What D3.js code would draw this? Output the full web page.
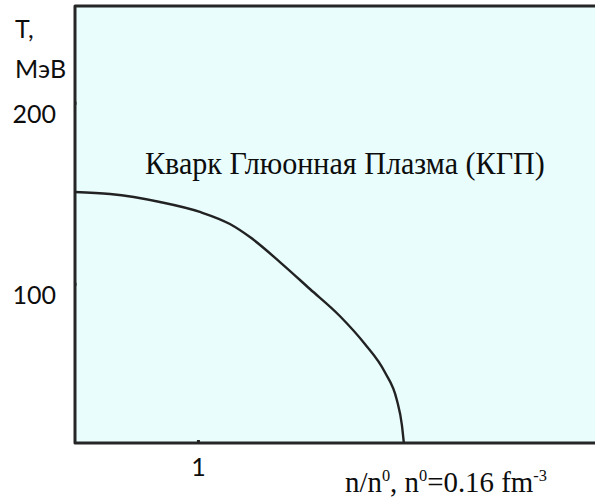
<!DOCTYPE html>
<html>
<head>
<meta charset="utf-8">
<script src="https://cdn.jsdelivr.net/npm/d3@7"></script>
<style>
  html, body { margin: 0; padding: 0; background: #ffffff; }
  svg { display: block; }
</style>
</head>
<body>
<svg id="chart" width="595" height="500"></svg>
<script>
// Phase boundary between hadronic matter and quark-gluon plasma
const densityRatio = [0, 0.285, 0.691, 1.016, 1.26, 1.423, 1.667, 1.911, 2.154, 2.358, 2.52, 2.618, 2.659, 2.675];
const temperatureMeV = [150.7, 149.6, 145.2, 139.7, 133.0, 125.8, 112.0, 97.1, 82.2, 66.7, 51.2, 35.8, 22.0, 12];
const yTickValues = [100, 200];
const xTickValues = [1];
const yTitleLines = ["T,", "МэВ"];
const xTitle = [
  { text: "n/n" }, { text: "0", sup: true }, { text: ", n" }, { text: "0", sup: true },
  { text: "=0.16 fm" }, { text: "-3", sup: true }
];
const regionLabel = "Кварк Глюонная Плазма (КГП)";

const svg = d3.select("#chart");
const plot = { left: 75, right: 595, top: 6, bottom: 443 };

const x = d3.scaleLinear().domain([0, 4.23]).range([plot.left, plot.right]);
const y = d3.scaleLinear().domain([12, 253.5]).range([plot.bottom, plot.top]);

// plot area background
svg.append("rect")
  .attr("x", plot.left).attr("y", plot.top)
  .attr("width", plot.right - plot.left).attr("height", plot.bottom - plot.top)
  .attr("fill", "#e9fdfd");

// frame: top, left and bottom edges
svg.append("path")
  .attr("d", `M${plot.right},${plot.top}H${plot.left}V${plot.bottom}H${plot.right}`)
  .attr("fill", "none")
  .attr("stroke", "#262626")
  .attr("stroke-width", 3)
  .attr("stroke-linejoin", "round");

const sansFont = "Lato, 'Open Sans', sans-serif";
const serifFont = "'Liberation Serif', 'Times New Roman', serif";

// axes
const yAxis = d3.axisLeft(y).tickValues(yTickValues).tickFormat(d3.format("d"))
  .tickSize(3).tickPadding(16).tickSizeOuter(0);
const gy = svg.append("g").attr("transform", `translate(${plot.left},0)`).call(yAxis);
gy.select(".domain").remove();
gy.selectAll(".tick line").attr("stroke", "#222").attr("stroke-width", 3).attr("x2", 1.5);
gy.selectAll(".tick text")
  .attr("font-family", sansFont)
  .attr("font-size", 25)
  .attr("fill", "#0d0d0d")
  .attr("dy", 20);

const xAxis = d3.axisBottom(x).tickValues(xTickValues).tickFormat(d3.format("d"))
  .tickSize(3).tickPadding(12).tickSizeOuter(0);
const gx = svg.append("g").attr("transform", `translate(0,${plot.bottom})`).call(xAxis);
gx.select(".domain").remove();
gx.selectAll(".tick line").attr("stroke", "#222").attr("stroke-width", 3).attr("y1", -3).attr("y2", 0);
gx.selectAll(".tick text")
  .attr("font-family", sansFont)
  .attr("font-size", 25)
  .attr("fill", "#0d0d0d");

// y-axis title
svg.append("g").selectAll("text")
  .data(yTitleLines)
  .join("text")
  .attr("x", 15)
  .attr("y", (d, i) => [38, 78][i])
  .attr("font-family", sansFont)
  .attr("font-size", 25)
  .attr("fill", "#0d0d0d")
  .text(d => d);

// phase boundary curve
const pts = densityRatio.map((d, i) => [d, temperatureMeV[i]]);
svg.append("path")
  .datum(pts)
  .attr("fill", "none")
  .attr("stroke", "#222")
  .attr("stroke-width", 2.4)
  .attr("d", d3.line().x(d => x(d[0])).y(d => y(d[1])).curve(d3.curveMonotoneX));

// squeeze a text element horizontally so it spans the given width
function fitWidth(sel, x0, width) {
  const w = sel.node().getComputedTextLength();
  const baseY = +sel.attr("y");
  sel.attr("x", 0).attr("y", 0)
    .attr("transform", `translate(${x0},${baseY}) scale(${width / w},1)`);
}

// region label
const lab = svg.append("text")
  .attr("x", 145).attr("y", 174)
  .attr("font-family", serifFont)
  .attr("font-size", 32)
  .attr("fill", "#0d0d0d")
  .text(regionLabel);
fitWidth(lab, 145, 400);

// x-axis title with superscripts
const xt = svg.append("text")
  .attr("x", 345).attr("y", 492)
  .attr("font-family", serifFont)
  .attr("font-size", 30)
  .attr("fill", "#0d0d0d");
xTitle.forEach((p, i) => {
  const prev = i > 0 ? xTitle[i - 1] : null;
  const t = xt.append("tspan").text(p.text);
  if (p.sup) t.attr("font-size", 17).attr("dy", -11);
  else if (prev && prev.sup) t.attr("dy", 11);
});
fitWidth(xt, 345, 202);
</script>
</body>
</html>
